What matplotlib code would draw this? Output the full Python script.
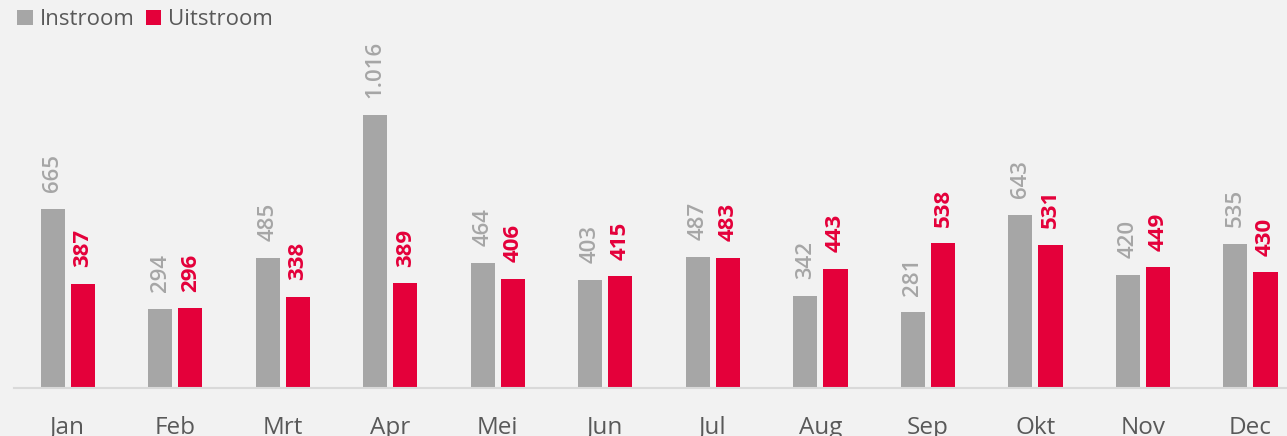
import matplotlib.pyplot as plt
import numpy as np

months = ["Jan", "Feb", "Mrt", "Apr", "Mei", "Jun", "Jul", "Aug", "Sep", "Okt", "Nov", "Dec"]
instroom = [665, 294, 485, 1016, 464, 403, 487, 342, 281, 643, 420, 535]
uitstroom = [387, 296, 338, 389, 406, 415, 483, 443, 538, 531, 449, 430]

GREY = "#A6A6A6"
RED = "#E4003A"
TXT = "#595959"

plt.rcParams["font.family"] = ["Open Sans", "DejaVu Sans"]

fig = plt.figure(figsize=(12.87, 4.36), dpi=100, facecolor="#F2F2F2")
ax = fig.add_axes([14 / 1287, 48 / 436, 1 - 14 / 1287, 388 / 436])
ax.set_facecolor("#F2F2F2")

x = np.arange(len(months))
w = 0.225
off = 0.14
b1 = ax.bar(x - off, instroom, w, color=GREY, label="Instroom")
b2 = ax.bar(x + off, uitstroom, w, color=RED, label="Uitstroom")


def fmt(v):
    return "{:,}".format(v).replace(",", ".")


for rect, v in zip(b1, instroom):
    ax.annotate(fmt(v), (rect.get_x() + rect.get_width() / 2, v), xytext=(0, 12),
                textcoords="offset points", rotation=90, ha="center", va="bottom",
                fontsize=16, color=GREY, fontweight="semibold")
for rect, v in zip(b2, uitstroom):
    ax.annotate(fmt(v), (rect.get_x() + rect.get_width() / 2, v), xytext=(0, 12),
                textcoords="offset points", rotation=90, ha="center", va="bottom",
                fontsize=16, color=RED, fontweight="bold")

ax.set_xlim(-0.5, 11.34)
ax.set_ylim(0, 1442)
ax.set_xticks(x)
ax.set_xticklabels(months, fontsize=17.5, color=TXT)
ax.tick_params(axis="x", length=0, pad=20)
ax.set_yticks([])
for s in ["top", "right", "left"]:
    ax.spines[s].set_visible(False)
ax.spines["bottom"].set_color("#D9D9D9")
ax.spines["bottom"].set_linewidth(1.5)

fig.legend(loc="upper left", bbox_to_anchor=(-0.002, 1.025), ncol=2, frameon=False,
           fontsize=16, labelcolor=TXT, handlelength=0.7, handleheight=0.7,
           handletextpad=0.3, columnspacing=0.5)

fig.savefig("out.png", dpi=100, facecolor=fig.get_facecolor())
